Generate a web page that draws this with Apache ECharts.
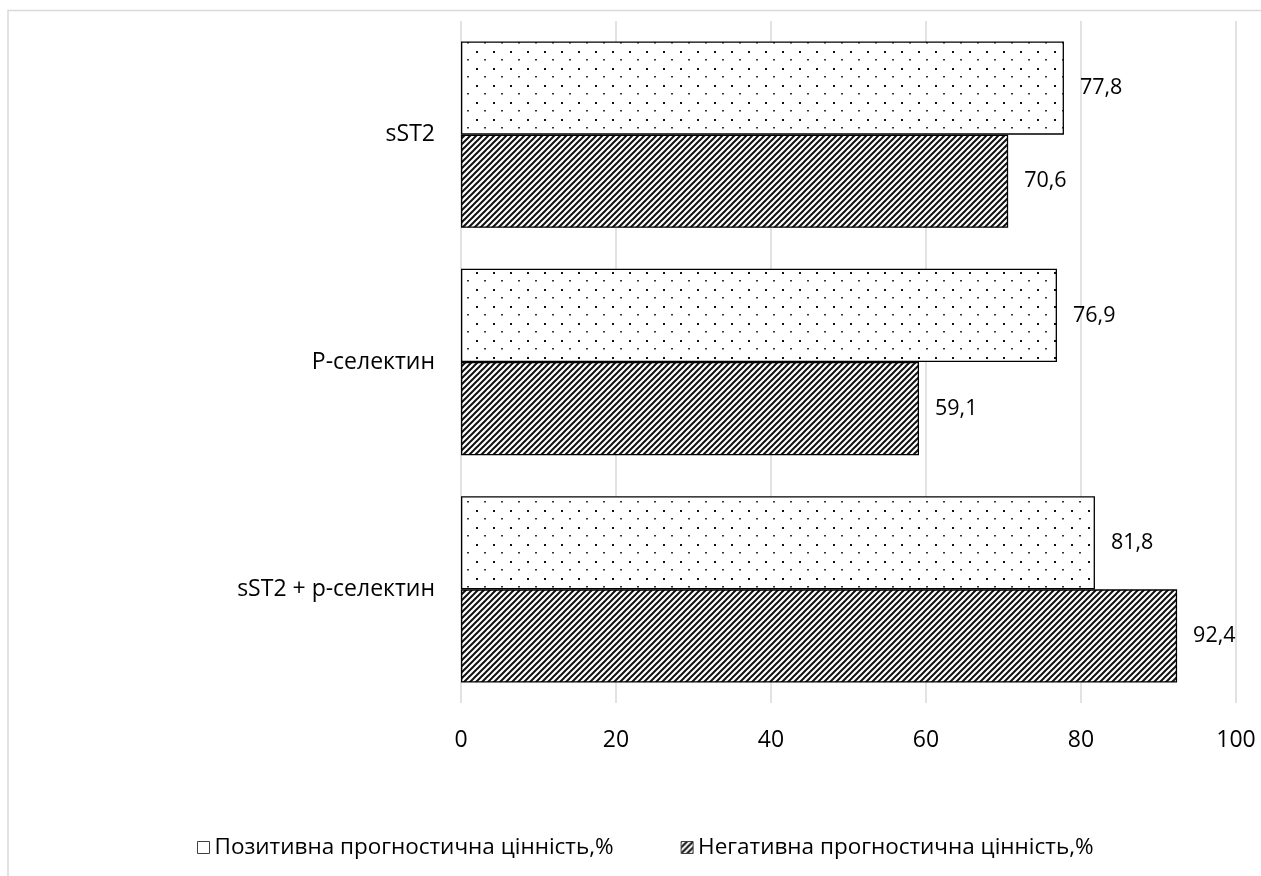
<!DOCTYPE html>
<html>
<head>
<meta charset="utf-8">
<style>
  html, body { margin: 0; padding: 0; background: #fff; }
  #chart { width: 1261px; height: 876px; }
</style>
<script src="https://cdn.jsdelivr.net/npm/echarts@6/dist/echarts.min.js"></script>
</head>
<body>
<div id="chart"></div>
<script>
// Markers and their predictive values, %
const categories = ['sST2', 'Р-селектин', 'sST2 + p-селектин'];
const seriesNames = ['Позитивна прогностична цінність,%', 'Негативна прогностична цінність,%'];
const positiveValues = [77.8, 76.9, 81.8];
const negativeValues = [70.6, 59.1, 92.4];
const xTicks = [0, 20, 40, 60, 80, 100];

const FONT = '"Open Sans", "Noto Sans", sans-serif';

// Sparse staggered dot fill
function dotTile() {
  const c = document.createElement('canvas');
  c.width = 17; c.height = 17;
  const g = c.getContext('2d');
  g.fillStyle = '#fff';
  g.fillRect(0, 0, 17, 17);
  g.fillStyle = '#111';
  g.fillRect(0, 0, 2, 2);
  g.fillStyle = '#333';
  g.fillRect(8, 8, 2, 1.5);
  return c;
}

// Dense upward diagonal hatch
function hatchTile() {
  const s = 6;
  const c = document.createElement('canvas');
  c.width = s; c.height = s;
  const g = c.getContext('2d');
  g.fillStyle = '#fff';
  g.fillRect(0, 0, s, s);
  g.strokeStyle = '#111';
  g.lineWidth = 2;
  g.beginPath();
  g.moveTo(-1, s + 1); g.lineTo(s + 1, -1);
  g.moveTo(-1, 1); g.lineTo(1, -1);
  g.moveTo(s - 1, s + 1); g.lineTo(s + 1, s - 1);
  g.stroke();
  return c;
}

const dotFill = { image: dotTile(), repeat: 'repeat' };
const hatchFill = { image: hatchTile(), repeat: 'repeat' };

const labelStyle = {
  show: true,
  position: 'right',
  distance: 16,
  color: '#000',
  fontFamily: FONT,
  fontSize: 21.5,
  formatter: p => String(p.value).replace('.', ',')
};

const chart = echarts.init(document.getElementById('chart'), null, { renderer: 'canvas' });

chart.setOption({
  animation: false,
  backgroundColor: '#fff',
  graphic: [{
    type: 'rect',
    shape: { x: 8, y: 10.5, width: 1400, height: 1000 },
    style: { fill: 'none', stroke: '#d9d9d9', lineWidth: 1.5 },
    silent: true
  }],
  grid: { left: 461, right: 25, top: 21, bottom: 173, containLabel: false },
  xAxis: {
    type: 'value',
    min: xTicks[0],
    max: xTicks[xTicks.length - 1],
    interval: xTicks[1] - xTicks[0],
    axisLine: { show: false },
    axisTick: { show: false },
    splitLine: { lineStyle: { color: '#d9d9d9', width: 1.5 } },
    axisLabel: { color: '#000', fontFamily: FONT, fontSize: 23, margin: 26 }
  },
  yAxis: {
    type: 'category',
    data: categories,
    inverse: true,
    axisLine: { show: false },
    axisTick: { show: false },
    axisLabel: { color: '#000', fontFamily: FONT, fontSize: 23, margin: 26 }
  },
  legend: {
    left: 192,
    top: 831,
    itemWidth: 12,
    itemHeight: 12,
    itemGap: 67,
    icon: 'rect',
    textStyle: { color: '#000', fontFamily: FONT, fontSize: 22.5 },
    data: [
      { name: seriesNames[0], itemStyle: { color: '#fff', borderColor: '#404040', borderWidth: 1 } },
      { name: seriesNames[1], itemStyle: { color: hatchFill, borderColor: '#404040', borderWidth: 1 } }
    ]
  },
  series: [
    {
      name: seriesNames[0],
      type: 'bar',
      data: positiveValues,
      barGap: '0%',
      barCategoryGap: '18%',
      itemStyle: { color: dotFill, borderColor: '#000', borderWidth: 1.3 },
      label: labelStyle
    },
    {
      name: seriesNames[1],
      type: 'bar',
      data: negativeValues,
      barGap: '0%',
      barCategoryGap: '18%',
      itemStyle: { color: hatchFill, borderColor: '#000', borderWidth: 1.3 },
      label: labelStyle
    }
  ]
});
</script>
</body>
</html>
